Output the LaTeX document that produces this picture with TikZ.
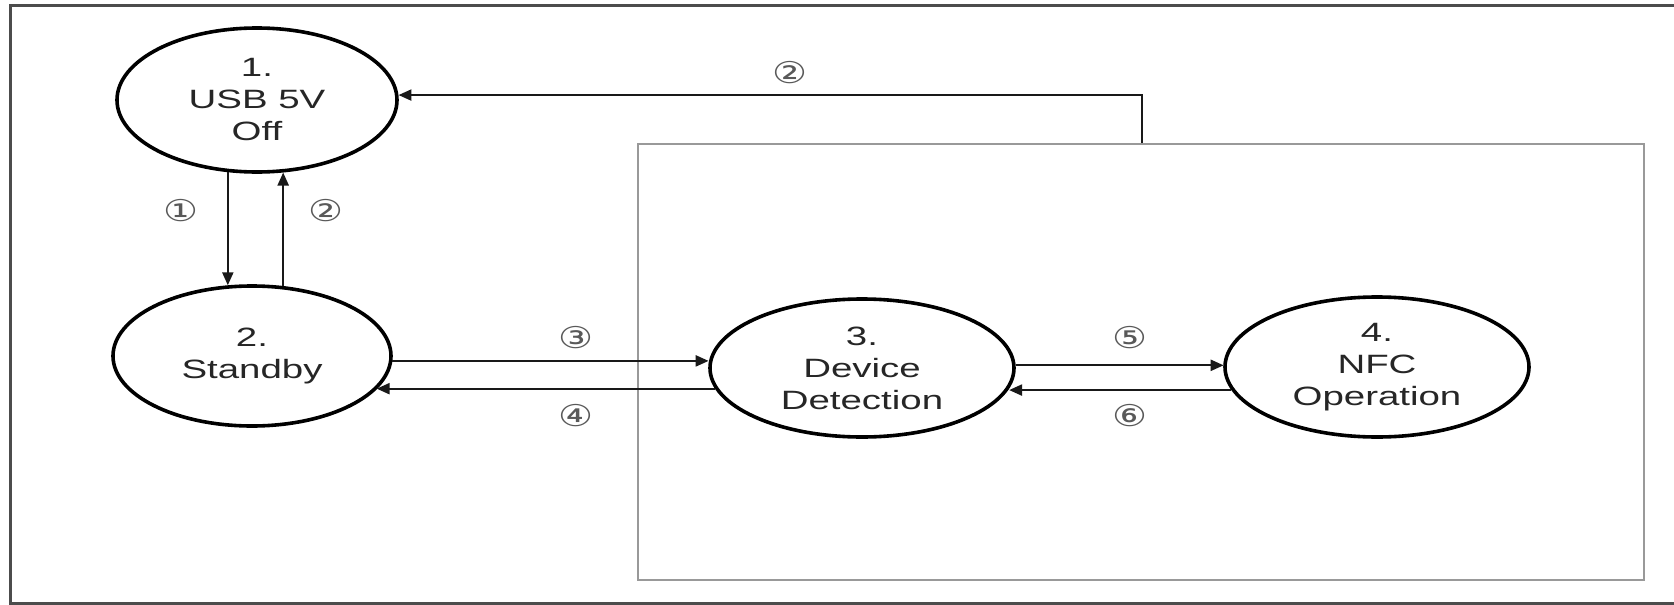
\documentclass[tikz,border=0pt]{standalone}
\usepackage{fontspec}
\setmainfont{Liberation Sans}[FakeStretch=1.45]
\newfontfamily\circfont{DejaVu Sans}[FakeStretch=1.3]
\usetikzlibrary{shapes.geometric,arrows.meta}
\tikzset{
  state/.style={ellipse, draw=black, line width=3.6pt, inner sep=0pt, align=center,
    text=black!85, font=\fontsize{26.5}{32}\selectfont},
  arr/.style={line width=2.2pt, draw=black!90, -{Triangle[length=13pt,width=11pt]}},
  lbl/.style={text=black!65, font=\circfont\fontsize{30}{32}\selectfont, inner sep=0pt},
  grp/.style={draw=black!40, line width=2pt, inner sep=0pt},
  frame/.style={draw=black!70, line width=3pt}
}
\begin{document}
\begin{tikzpicture}[x=1pt,y=-1pt]
\useasboundingbox (0,0) rectangle (1674,605);
\fill[white] (0,0) rectangle (1674,605);
\draw[frame] (1690,5) -- (10,5) -- (10,603) -- (1690,603);
\node[grp, minimum width=1006pt, minimum height=436pt] (box) at (1141,362) {};
\node[state, minimum width=280pt, minimum height=144pt] (e1) at (257,100) {1.\\USB 5V\\Off};
\node[state, minimum width=278pt, minimum height=140pt] (e2) at (252,356) {2.\\Standby};
\node[state, minimum width=304pt, minimum height=138pt] (e3) at (862,368) {3.\\Device\\Detection};
\node[state, minimum width=304pt, minimum height=140pt] (e4) at (1377,367) {4.\\NFC\\Operation};
\coordinate (tap) at (box.north -| 1142,0);
% vertical arrows
\draw[arr] (e1.-112.39) -- (e1.-112.39 |- e2.109.19);
\draw[arr] (e2.66.30) -- (e2.66.30 |- e1.-70.56);
% top return
\draw[arr] (tap) |- (e1.2.05);
% horizontal arrows
\draw[arr] (e2.-2.90) -- (e2.-2.90 -| e3.178.11);
\draw[arr] (e3.188.68) -- (e3.188.68 -| e2.-15.63);
\draw[arr] (e3.1.89) -- (e3.1.89 -| e4.178.49);
\draw[arr] (e4.189.10) -- (e4.189.10 -| e3.-8.68);
% labels
\node[lbl] (l2t) at (790,73) {②};
\node[lbl] (l1) at (181,211) {①};
\node[lbl] (l2) at (326,211) {②};
\node[lbl] (l3) at (576,338) {③};
\node[lbl] (l4) at (576,416) {④};
\node[lbl] (l5) at (1130,338) {⑤};
\node[lbl] (l6) at (1130,416) {⑥};
\end{tikzpicture}
\end{document}
